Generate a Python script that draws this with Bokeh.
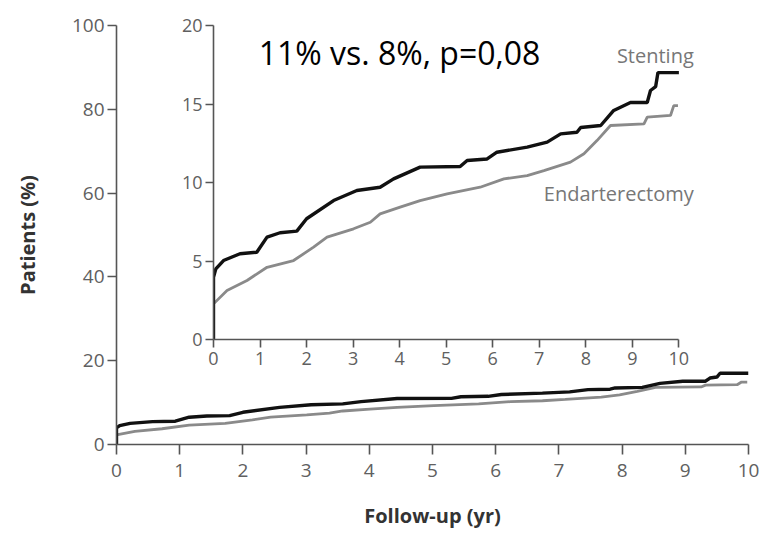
from bokeh.plotting import figure
from bokeh.layouts import column
from bokeh.models import Range1d, FixedTicker, Label
from bokeh.embed import file_html
from bokeh.resources import INLINE

# Data (cumulative event rate, %, vs follow-up years)
stent_x = [0, 0, 0.05, 0.215, 0.57, 0.93, 1.15, 1.43, 1.79, 2.0, 2.58, 3.08, 3.58, 3.87, 4.44,
           5.30, 5.45, 5.88, 6.09, 6.74, 7.17, 7.46, 7.81, 7.89, 8.32, 8.6, 8.96, 9.32, 9.39,
           9.5, 9.55, 10.0]
stent_y = [0, 3.97, 4.5, 5.03, 5.46, 5.56, 6.52, 6.8, 6.9, 7.69, 8.85, 9.49, 9.7, 10.23, 10.98,
           11.02, 11.4, 11.5, 11.93, 12.25, 12.57, 13.1, 13.2, 13.5, 13.63, 14.59, 15.1, 15.1, 15.86,
           16.1, 17.0, 17.0]
endo_x = [0, 0, 0.29, 0.72, 1.15, 1.72, 2.15, 2.44, 3.01, 3.37, 3.58, 4.01, 4.44, 5.02, 5.73,
          6.24, 6.74, 7.1, 7.67, 7.96, 8.24, 8.53, 9.25, 9.32, 9.82, 9.89, 9.98]
endo_y = [0, 2.27, 3.12, 3.76, 4.6, 5.03, 5.88, 6.52, 7.05, 7.47, 8.0, 8.43, 8.85, 9.28, 9.7,
          10.23, 10.44, 10.76, 11.3, 11.83, 12.67, 13.63, 13.73, 14.16, 14.27, 14.9, 14.9]

main_yticks = [0, 20, 40, 60, 80, 100]
inset_yticks = [0, 5, 10, 15, 20]
xticks = [0, 1, 2, 3, 4, 5, 6, 7, 8, 9, 10]
annotation = "11% vs. 8%, p=0,08"

W, H = 763, 536
AXC = "#555555"
TXC = "#606060"
FONT = "Open Sans"
BLACK = "#111111"
GRAY = "#8a8a8a"


def style(p, fs, xtick, ytick, xstand):
    for ax, t, s in ((p.xaxis[0], xtick, xstand), (p.yaxis[0], ytick, 3)):
        ax.axis_line_color = AXC
        ax.axis_line_width = 1.6
        ax.major_tick_line_color = AXC
        ax.major_tick_line_width = 1.6
        ax.major_tick_out = t
        ax.major_tick_in = 0
        ax.minor_tick_line_color = None
        ax.major_label_text_color = TXC
        ax.major_label_text_font = FONT
        ax.major_label_text_font_size = fs
        ax.major_label_standoff = s
    p.xgrid.visible = False
    p.ygrid.visible = False
    p.outline_line_color = None


# Main figure
p = figure(width=W, height=H, output_backend="svg", toolbar_location=None,
           x_range=Range1d(0, 10), y_range=Range1d(0, 100), frame_align=False,
           min_border_left=116, min_border_right=15, min_border_top=25, min_border_bottom=92)
style(p, "19px", 10, 9, 9)
p.xaxis.ticker = FixedTicker(ticks=xticks)
p.yaxis.ticker = FixedTicker(ticks=main_yticks)
p.xaxis.axis_label = "Follow-up (yr)"
p.yaxis.axis_label = "Patients (%)"
for ax in (p.xaxis[0], p.yaxis[0]):
    ax.axis_label_text_font = FONT
    ax.axis_label_text_font_style = "bold"
    ax.axis_label_text_font_size = "20px"
    ax.axis_label_text_color = "#333333"
p.xaxis.axis_label_standoff = 22
p.yaxis.axis_label_standoff = 28
p.line(endo_x, endo_y, line_color=GRAY, line_width=2.8)
p.line(stent_x, stent_y, line_color=BLACK, line_width=3.4)

# Inset figure, overlaid on the main one; x range extended so labels fit, axis bounded to 0-10
q = figure(width=W, height=H, output_backend="svg", toolbar_location=None,
           x_range=Range1d(0, 10.4), y_range=Range1d(0, 20), frame_align=False,
           min_border_left=213, min_border_right=W - 697, min_border_top=25, min_border_bottom=H - 339)
style(q, "18px", 8, 8, 4)
q.xaxis.ticker = FixedTicker(ticks=xticks)
q.xaxis.bounds = (0, 10)
q.yaxis.ticker = FixedTicker(ticks=inset_yticks)
q.background_fill_alpha = 0
q.border_fill_alpha = 0
q.line(endo_x, endo_y, line_color=GRAY, line_width=2.8)
q.line(stent_x, stent_y, line_color=BLACK, line_width=3.4)
q.add_layout(Label(x=0.97, y=18.28, text=annotation, text_font=FONT, text_font_size="32px",
                   text_color="black", text_baseline="alphabetic"))
q.add_layout(Label(x=10.32, y=18.1, text="Stenting", text_font=FONT, text_font_size="20px",
                   text_color="#777777", text_align="right", text_baseline="middle"))
q.add_layout(Label(x=10.32, y=9.3, text="Endarterectomy", text_font=FONT, text_font_size="20px",
                   text_color="#777777", text_align="right", text_baseline="middle"))
q.margin = (-H, 0, 0, 0)

layout = column(p, q, spacing=0)
open("out.html", "w").write(file_html(layout, INLINE))
